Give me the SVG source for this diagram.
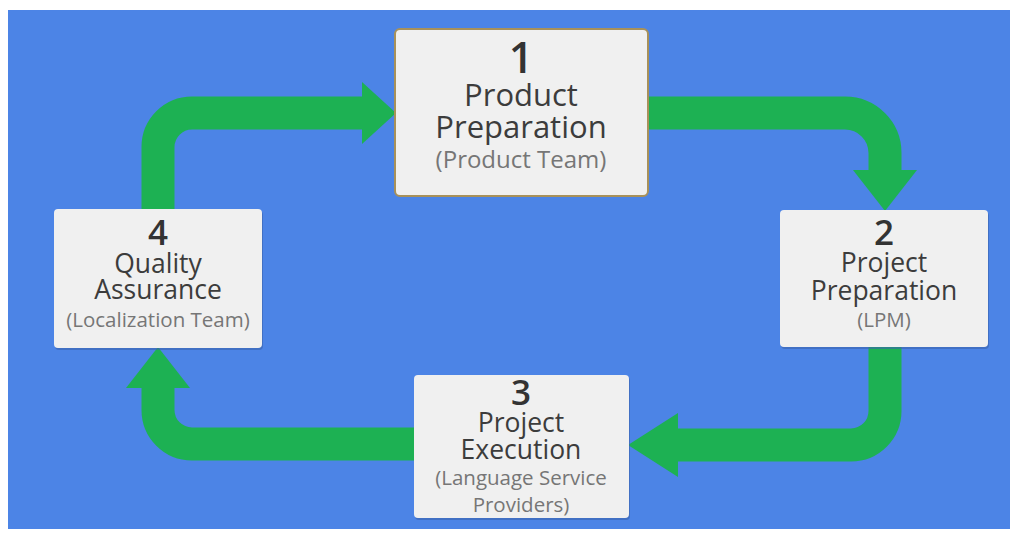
<svg xmlns="http://www.w3.org/2000/svg" width="1019" height="540" viewBox="0 0 1019 540">
<style>
.bg{fill:#4c84e6}
.flow{fill:none;stroke:#1db153;stroke-width:33}
.head{fill:#1db153}
.box{fill:#f0f0f0}
.shadow{fill:#3a63ae;opacity:0.6}
.num{font-family:"Open Sans","Liberation Sans",sans-serif;fill:#333;text-anchor:middle;font-weight:600}
.title{font-family:"Open Sans","Liberation Sans",sans-serif;fill:#3c3c3c;text-anchor:middle}
.sub{font-family:"Open Sans","Liberation Sans",sans-serif;fill:#767676;text-anchor:middle}
</style>
<rect x="0" y="0" width="1019" height="540" fill="#ffffff"/>
<rect class="bg" x="8" y="10" width="1002" height="519"/>
<g id="connectors">
<path class="flow" d="M158,212 V147 A34,34 0 0 1 192,113 H364"/>
<polygon class="head" points="362,82 396,113 362,144"/>
<path class="flow" d="M645,113 H845 A40,40 0 0 1 885,153 V172"/>
<polygon class="head" points="853,170 917,170 885,211"/>
<path class="flow" d="M885,344 V411 A34,34 0 0 1 851,445 H676"/>
<polygon class="head" points="678,413 678,477 628,445"/>
<path class="flow" d="M417,444 H192 A34,34 0 0 1 158,410 V386"/>
<polygon class="head" points="126,388 190,388 158,347"/>
</g>
<g id="node1">
<rect x="395" y="29" width="253" height="167" rx="5" class="box" stroke="#a8915a" stroke-width="2"/>
<text class="num" x="521" y="73" font-size="43">1</text>
<text class="title" x="521" y="106" font-size="31">Product</text>
<text class="title" x="521" y="138" font-size="31">Preparation</text>
<text class="sub" x="521" y="168" font-size="24">(Product Team)</text>
</g>
<g id="node2">
<rect x="781" y="212" width="208" height="137" rx="4" class="shadow"/>
<rect x="780" y="210" width="208" height="137" rx="4" class="box"/>
<text class="num" x="884" y="245" font-size="35">2</text>
<text class="title" x="884" y="272" font-size="26.5">Project</text>
<text class="title" x="884" y="300" font-size="26.5">Preparation</text>
<text class="sub" x="884" y="327" font-size="20.5">(LPM)</text>
</g>
<g id="node3">
<rect x="415" y="377" width="215" height="143" rx="4" class="shadow"/>
<rect x="414" y="375" width="215" height="143" rx="4" class="box"/>
<text class="num" x="521" y="405" font-size="35">3</text>
<text class="title" x="521" y="432" font-size="26.5">Project</text>
<text class="title" x="521" y="459" font-size="26.5">Execution</text>
<text class="sub" x="521" y="485" font-size="20.5">(Language Service</text>
<text class="sub" x="521" y="512" font-size="20.5">Providers)</text>
</g>
<g id="node4">
<rect x="55" y="211" width="208" height="139" rx="4" class="shadow"/>
<rect x="54" y="209" width="208" height="139" rx="4" class="box"/>
<text class="num" x="158" y="245" font-size="35">4</text>
<text class="title" x="158" y="273" font-size="26.5">Quality</text>
<text class="title" x="158" y="299" font-size="26.5">Assurance</text>
<text class="sub" x="158" y="327" font-size="20.5">(Localization Team)</text>
</g>
</svg>
